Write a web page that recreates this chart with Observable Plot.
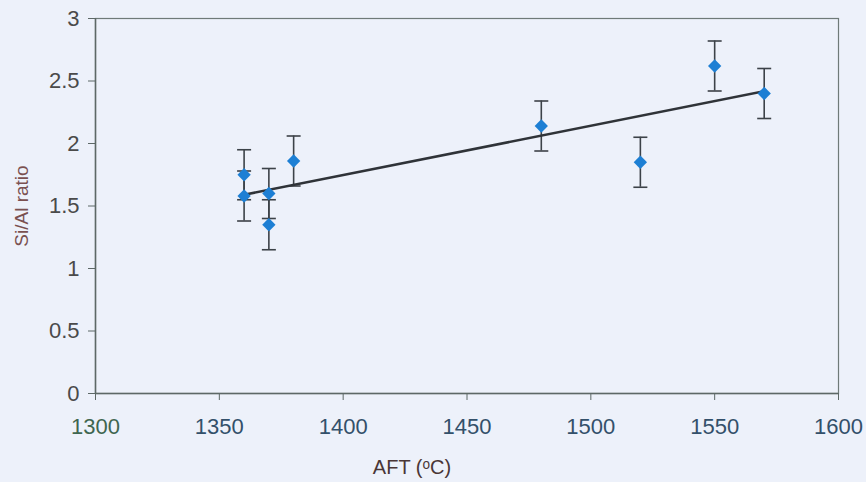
<!DOCTYPE html>
<html>
<head>
<meta charset="utf-8">
<script src="https://cdn.jsdelivr.net/npm/d3@7"></script>
<script src="https://cdn.jsdelivr.net/npm/@observablehq/plot@0.6"></script>
<style>
  html, body { margin: 0; padding: 0; background: #edf1fa; }
  #chart { width: 866px; height: 482px; }
  svg { font-family: "Liberation Sans", Arial, sans-serif; }
</style>
</head>
<body>
<div id="chart"></div>
<script>
// AFT (°C) values
const aft = [1360, 1360, 1370, 1370, 1380, 1480, 1520, 1550, 1570];
// Si/Al ratio values
const siAl = [1.75, 1.58, 1.60, 1.35, 1.86, 2.14, 1.85, 2.62, 2.40];
// error (±)
const err = [0.2, 0.2, 0.2, 0.2, 0.2, 0.2, 0.2, 0.2, 0.2];
const xTicks = [1300, 1350, 1400, 1450, 1500, 1550, 1600];
const yTicks = [0, 0.5, 1, 1.5, 2, 2.5, 3];
const xTitle = "AFT (ᵒC)";
const yTitle = "Si/Al ratio";

const data = aft.map((x, i) => ({x, y: siAl[i], lo: siAl[i] - err[i], hi: siAl[i] + err[i]}));

const hline = {
  draw(context, size) {
    const r = Math.sqrt(size / Math.PI);
    context.moveTo(-r, 0);
    context.lineTo(r, 0);
  }
};

const chart = Plot.plot({
  width: 866,
  height: 482,
  marginLeft: 95,
  marginRight: 28,
  marginTop: 18,
  marginBottom: 89,
  style: {background: "#edf1fa", fontFamily: "'Liberation Sans', Arial, sans-serif", fontSize: "22px"},
  x: {domain: [1300, 1600]},
  y: {domain: [0, 3]},
  marks: [
    Plot.frame({stroke: "#6f7a78", strokeWidth: 1.2}),
    Plot.axisX({ticks: xTicks, tickFormat: d => String(d), tickSize: 7, tickPadding: 18, color: "#33506a", stroke: "#5d6866", label: null}),
    Plot.axisY({ticks: yTicks, tickFormat: d => String(d), tickSize: 7, tickPadding: 9, color: "#4a4a4a", stroke: "#5d6866", label: null}),
    Plot.ruleY([0], {stroke: "#5d6866", strokeWidth: 1.5}),
    Plot.ruleX([1300], {stroke: "#5d6866", strokeWidth: 1.5}),
    Plot.ruleX(data, {x: "x", y1: "lo", y2: "hi", stroke: "#3c4248", strokeWidth: 1.6}),
    Plot.dot(data, {x: "x", y: "lo", symbol: hline, r: 7, stroke: "#3c4248", strokeWidth: 1.6}),
    Plot.dot(data, {x: "x", y: "hi", symbol: hline, r: 7, stroke: "#3c4248", strokeWidth: 1.6}),
    Plot.linearRegressionY(data, {x: "x", y: "y", ci: 0, stroke: "#2f3338", strokeWidth: 2.6}),
    Plot.dot(data, {x: "x", y: "y", symbol: "diamond2", r: 6, fill: "#1d7fd4", stroke: "none"}),
    Plot.text([xTitle], {frameAnchor: "bottom", dx: -55, dy: 74, lineAnchor: "middle", textAnchor: "middle", fill: "#4a3636", fontSize: 20}),
    Plot.text([yTitle], {frameAnchor: "left", dx: -74, rotate: -90, lineAnchor: "middle", textAnchor: "middle", fill: "#7a5050", fontSize: 19})
  ]
});
document.getElementById("chart").appendChild(chart);
// first x tick label is greenish in the reference
d3.select(chart).selectAll("g[aria-label='x-axis tick label'] text").filter((d, i) => i === 0).attr("fill", "#3f6650");
</script>
</body>
</html>
